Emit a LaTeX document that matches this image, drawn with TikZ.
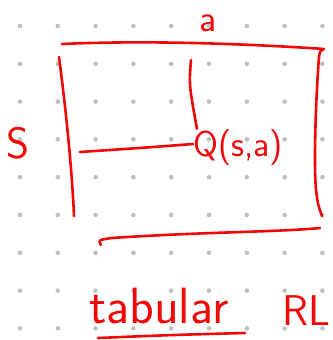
\documentclass[tikz,border=0pt]{standalone}
\definecolor{inkred}{RGB}{240,8,8}
\definecolor{dotgray}{RGB}{192,192,192}
\begin{document}
\begin{tikzpicture}[x=1pt,y=-1pt,
  ink/.style={draw=inkred, line width=2.6pt, line cap=round, line join=round},
  lbl/.style={text=inkred, font=\sffamily, inner sep=0pt}]
\useasboundingbox (0,0) rectangle (332,340);
\fill[white] (0,0) rectangle (332,340);
\foreach \i in {0,...,8} \foreach \j in {0,...,8}
  \fill[dotgray] (20+37.8*\i, 26+37.8*\j) circle (2.3pt);
% labels
\node[lbl, anchor=base] (acol) at (208,31) {\fontsize{38}{42}\selectfont a};
\node[lbl, anchor=base] (srow) at (18,158) {\fontsize{44}{48}\selectfont S};
\node[lbl, anchor=base west] (q) at (193,156) {\fontsize{36}{40}\selectfont Q(s,a)};
\node[lbl, anchor=base west] (tab) at (89,323) {\fontsize{51}{56}\selectfont tabular};
\node[lbl, anchor=base west] (rl) at (282,325) {\fontsize{43}{48}\selectfont RL};
% table frame
\draw[ink] (62,44) .. controls (150,40) and (250,44) .. (324,49) .. controls (320,51) .. (319,57);
\draw[ink] (59,57) .. controls (66,110) and (72,170) .. (74,216);
\draw[ink] (319,57) .. controls (315,110) and (314,170) .. (316,190) .. controls (318,205) .. (322,216);
\draw[ink] (101,245) .. controls (98,240) .. (112,238) .. controls (200,232) and (280,232) .. (320,228);
% pointers to cell
\coordinate (vtop) at (191,60);
\coordinate (hleft) at (80,152);
\draw[ink] (vtop) .. controls (189,85) .. (q.north west -| 197,113);
\draw[ink] (hleft) .. controls (140,148) .. (q.west |- 0,144);
% underline
\coordinate (ul1) at (98,338);
\coordinate (ul2) at (245,333);
\draw[ink] (ul1) .. controls (170,335) .. (ul2);
\end{tikzpicture}
\end{document}
